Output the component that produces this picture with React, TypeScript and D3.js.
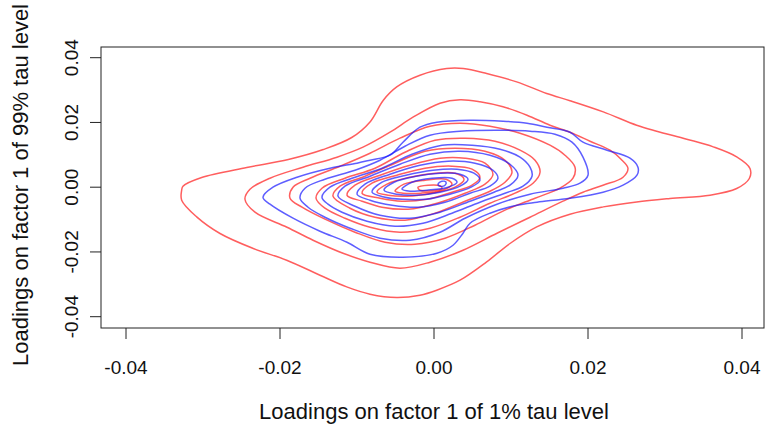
import React from 'react';
import * as d3 from 'd3';

type P = [number, number];

const xTicks = [-0.04, -0.02, 0, 0.02, 0.04];
const yTicks = [-0.04, -0.02, 0, 0.02, 0.04];
const xTickLabels = ['-0.04', '-0.02', '0.00', '0.02', '0.04'];
const yTickLabels = ['-0.04', '-0.02', '0.00', '0.02', '0.04'];
const xTitle = 'Loadings on factor 1 of 1% tau level';
const yTitle = 'Loadings on factor 1 of 99% tau level';

// Red contour levels (outer -> inner)
const red1: P[] = [[-0.03277,-0.00093],[-0.0326,0.00031],[-0.03017,0.003],[-0.02432,0.00608],[-0.01892,0.00856],[-0.01438,0.01164],[-0.01069,0.01535],[-0.00831,0.02017],[-0.00658,0.02687],[-0.00484,0.03098],[-0.00182,0.03459],[0.00165,0.03666],[0.00381,0.03666],[0.00684,0.03512],[0.01074,0.03253],[0.01464,0.02894],[0.01766,0.02672],[0.02199,0.02326],[0.02632,0.01915],[0.02892,0.0173],[0.03282,0.01483],[0.03627,0.01245],[0.03931,0.00936],[0.04104,0.00578],[0.04095,0.00269],[0.03931,-0.0004],[0.03584,-0.00247],[0.03065,-0.00349],[0.02632,-0.00454],[0.02199,-0.00608],[0.01766,-0.00834],[0.01334,-0.01226],[0.00987,-0.01739],[0.00684,-0.02307],[0.00338,-0.02873],[0.00035,-0.03181],[-0.00182,-0.03336],[-0.00484,-0.03407],[-0.00831,-0.03305],[-0.01134,-0.0308],[-0.01481,-0.02718],[-0.01913,-0.02255],[-0.02347,-0.01893],[-0.02779,-0.0143],[-0.03082,-0.00917],[-0.03277,-0.00402]];
const red2: P[] = [[-0.02455,-0.00371],[-0.0239,-0.00062],[-0.0213,0.00278],[-0.01701,0.00618],[-0.0126,0.00927],[-0.00922,0.01236],[-0.00571,0.01699],[-0.00273,0.02162],[0.00078,0.02595],[0.00338,0.02703],[0.00597,0.02641],[0.00896,0.02486],[0.01208,0.02224],[0.01506,0.01915],[0.01766,0.01699],[0.02026,0.01421],[0.02286,0.01143],[0.02429,0.00865],[0.02519,0.00587],[0.02455,0.00309],[0.02195,0.00062],[0.01935,-0.00154],[0.01675,-0.00432],[0.01247,-0.00927],[0.00818,-0.01421],[0.00377,-0.01946],[-0.00052,-0.02317],[-0.00442,-0.02502],[-0.00831,-0.02317],[-0.01182,-0.02039],[-0.01571,-0.01637],[-0.01909,-0.01236],[-0.02325,-0.00772]];
const red3: P[] = [[-0.0187,-0.0034],[-0.01831,0],[-0.0161,0.00278],[-0.01221,0.00649],[-0.00831,0.0105],[-0.00442,0.01514],[-0.00052,0.01884],[0.00338,0.01977],[0.00727,0.01884],[0.01117,0.01668],[0.01506,0.01297],[0.01701,0.00988],[0.01831,0.00618],[0.01805,0.00278],[0.01636,-0.00031],[0.01312,-0.0034],[0.00922,-0.0071],[0.00532,-0.01174],[0.00143,-0.01575],[-0.00247,-0.01761],[-0.00636,-0.01699],[-0.01026,-0.0139],[-0.01416,-0.00988],[-0.01714,-0.00618]];
const red4: P[] = [[-0.01532,-0.0034],[-0.01455,-0.00031],[-0.01156,0.00278],[-0.00766,0.00587],[-0.00377,0.01081],[0.00013,0.01452],[0.00403,0.01514],[0.00792,0.01421],[0.01117,0.01143],[0.01312,0.00834],[0.01377,0.00463],[0.01286,0.00124],[0.01052,-0.00185],[0.00727,-0.00494],[0.00338,-0.00927],[-0.00052,-0.01266],[-0.00442,-0.0139],[-0.00831,-0.01236],[-0.01156,-0.00958],[-0.01416,-0.00649]];
const red5: P[] = [[-0.01312,-0.00278],[-0.01221,0.00031],[-0.00896,0.0034],[-0.00506,0.00741],[-0.00117,0.01112],[0.00273,0.01205],[0.00662,0.01112],[0.00922,0.00834],[0.01013,0.00463],[0.00922,0.00154],[0.00727,-0.00124],[0.00403,-0.00432],[0.00013,-0.00803],[-0.00377,-0.01019],[-0.00766,-0.00927],[-0.01091,-0.00649]];
const red6: P[] = [[-0.0113,-0.00247],[-0.01026,0.00062],[-0.00701,0.00371],[-0.00312,0.0068],[0.00078,0.00896],[0.00403,0.00896],[0.00662,0.00741],[0.00766,0.00402],[0.00662,0.00093],[0.00403,-0.00185],[0.00039,-0.00494],[-0.00338,-0.0068],[-0.00675,-0.00618],[-0.00935,-0.00432]];
const red7: P[] = [[-0.00935,-0.00185],[-0.00805,0.00124],[-0.00481,0.00371],[-0.00117,0.00587],[0.00234,0.00649],[0.00494,0.00556],[0.00597,0.00309],[0.00494,0.00062],[0.00234,-0.00154],[-0.00091,-0.00371],[-0.00416,-0.00432],[-0.00701,-0.0034]];
const red8: P[] = [[-0.0074,-0.00154],[-0.0061,0.00093],[-0.00312,0.00309],[0.00013,0.00432],[0.00273,0.00432],[0.0039,0.00247],[0.00273,0],[-0.00026,-0.00185],[-0.00351,-0.00278],[-0.00597,-0.00247]];
const red9: P[] = [[-0.00506,-0.00124],[-0.0039,0.00093],[-0.00117,0.00216],[0.00156,0.00247],[0.00234,0.00093],[0.00104,-0.00093],[-0.00169,-0.00185],[-0.00403,-0.00185]];
const red10: P[] = [[-0.00208,0],[0.00078,0.00046],[0.00104,-0.00046],[-0.00182,-0.00093]];

// Blue contour levels (outer -> inner)
const blue1: P[] = [[-0.02221,-0.00309],[-0.02091,0],[-0.01779,0.00309],[-0.01351,0.00587],[-0.01,0.00741],[-0.00831,0.00834],[-0.00571,0.00988],[-0.00403,0.0139],[-0.00182,0.01853],[0.00039,0.02008],[0.00468,0.0207],[0.00896,0.02039],[0.01208,0.01977],[0.01468,0.01853],[0.01766,0.01699],[0.01935,0.0139],[0.02247,0.01143],[0.02545,0.00896],[0.02649,0.00618],[0.02636,0.00371],[0.02455,0.00062],[0.02195,-0.00154],[0.01766,-0.0034],[0.01338,-0.00463],[0.01078,-0.00556],[0.00727,-0.00803],[0.00468,-0.01112],[0.00377,-0.01421],[0.00247,-0.01792],[0.00039,-0.02039],[-0.00403,-0.02162],[-0.00831,-0.0207],[-0.0113,-0.01699],[-0.01481,-0.01359],[-0.01831,-0.00958],[-0.0213,-0.00525]];
const blue2: P[] = [[-0.0174,-0.0034],[-0.01675,-0.00031],[-0.01416,0.00247],[-0.01026,0.00525],[-0.00701,0.00834],[-0.00377,0.01266],[-0.00052,0.01606],[0.00338,0.0173],[0.00818,0.01761],[0.01247,0.0173],[0.01571,0.01637],[0.01792,0.0139],[0.01935,0.00927],[0.02,0.00371],[0.01896,0.00124],[0.01675,-0.00031],[0.01247,-0.00216],[0.00818,-0.00525],[0.00403,-0.00958],[0.00078,-0.0139],[-0.00312,-0.01637],[-0.00701,-0.01575],[-0.01091,-0.01266],[-0.01416,-0.00927],[-0.01636,-0.00618]];
const blue3: P[] = [[-0.01455,-0.00309],[-0.01351,0],[-0.01065,0.00278],[-0.00675,0.00587],[-0.00286,0.01019],[0.00104,0.01297],[0.00494,0.01297],[0.00857,0.01174],[0.01117,0.00927],[0.01247,0.00618],[0.01273,0.0034],[0.01156,0.00031],[0.00922,-0.00185],[0.00597,-0.00463],[0.00234,-0.00803],[-0.00143,-0.01112],[-0.00506,-0.01205],[-0.0087,-0.0105],[-0.01195,-0.00772],[-0.01377,-0.00525]];
const blue4: P[] = [[-0.01247,-0.00278],[-0.01156,0.00031],[-0.00831,0.0034],[-0.00442,0.0071],[-0.00052,0.01019],[0.00338,0.01112],[0.00727,0.00988],[0.00987,0.0071],[0.01091,0.00371],[0.00987,0.00062],[0.00779,-0.00154],[0.00468,-0.00432],[0.00078,-0.00772],[-0.00312,-0.00958],[-0.00701,-0.00865],[-0.01026,-0.00587]];
const blue5: P[] = [[-0.01,-0.00216],[-0.00896,0.00093],[-0.00571,0.00402],[-0.00182,0.0068],[0.00182,0.00803],[0.00532,0.00741],[0.00766,0.00525],[0.00831,0.00278],[0.00727,0.00031],[0.00468,-0.00185],[0.00143,-0.00463],[-0.00208,-0.00618],[-0.00545,-0.00556],[-0.00831,-0.00402]];
const blue6: P[] = [[-0.00805,-0.00154],[-0.00675,0.00154],[-0.00364,0.00371],[-0.00013,0.00525],[0.00299,0.00556],[0.00519,0.00432],[0.00597,0.00216],[0.00481,0],[0.00208,-0.00216],[-0.00104,-0.00371],[-0.00416,-0.00371],[-0.00636,-0.00309]];
const blue7: P[] = [[-0.00649,-0.00093],[-0.00519,0.00154],[-0.00234,0.0034],[0.00078,0.00432],[0.00338,0.00402],[0.00442,0.00247],[0.00338,0.00031],[0.00078,-0.00154],[-0.00234,-0.00247],[-0.00481,-0.00216]];
const blue8: P[] = [[-0.00416,-0.00062],[-0.00286,0.00154],[-0.00026,0.00278],[0.00234,0.00278],[0.00299,0.00154],[0.00182,0],[-0.00091,-0.00093],[-0.00312,-0.00124]];
const blue9: P[] = [[0.00052,0.00093],[0.00104,0.00185],[0.00156,0.00154],[0.00143,0.00062],[0.00078,0.00031]];

const redContours = [red1, red2, red3, red4, red5, red6, red7, red8, red9, red10];
const blueContours = [blue1, blue2, blue3, blue4, blue5, blue6, blue7, blue8, blue9];

const FONT = '"Liberation Sans", Arial, Helvetica, sans-serif';

export default function App() {
  const W = 765, H = 425;
  const box = { left: 101, right: 764, top: 47, bottom: 328 };
  const x = d3.scaleLinear().domain([-0.04, 0.04]).range([126, 742]);
  const y = d3.scaleLinear().domain([-0.04, 0.04]).range([316.7, 57.7]);
  const line = d3.line<P>().x(d => x(d[0])).y(d => y(d[1])).curve(d3.curveCatmullRomClosed.alpha(0.5));
  const tickLen = 11;

  return (
    <svg width={W} height={H} style={{ position: 'absolute', left: 0, top: 0, background: '#fff' }} fontFamily={FONT}>
      <rect x={0} y={0} width={W} height={H} fill="#fff" />
      <g fill="none" strokeWidth={1.5} strokeLinejoin="round">
        {redContours.map((c, i) => (
          <path key={'r' + i} d={line(c) || ''} stroke="#ff1a1a" strokeOpacity={0.7} />
        ))}
        {blueContours.map((c, i) => (
          <path key={'b' + i} d={line(c) || ''} stroke="#1a1aff" strokeOpacity={0.7} />
        ))}
      </g>
      <rect x={box.left} y={box.top} width={box.right - box.left} height={box.bottom - box.top} fill="none" stroke="#222" strokeWidth={1} />
      {xTicks.map((t, i) => (
        <g key={'xt' + i}>
          <line x1={x(t)} x2={x(t)} y1={box.bottom} y2={box.bottom + tickLen} stroke="#222" />
          <text x={x(t)} y={374} textAnchor="middle" fontSize={19} fill="#111">{xTickLabels[i]}</text>
        </g>
      ))}
      {yTicks.map((t, i) => (
        <g key={'yt' + i}>
          <line x1={box.left - tickLen} x2={box.left} y1={y(t)} y2={y(t)} stroke="#222" />
          <text transform={`translate(78,${y(t)}) rotate(-90)`} textAnchor="middle" fontSize={19} fill="#111">{yTickLabels[i]}</text>
        </g>
      ))}
      <text x={434} y={419} textAnchor="middle" fontSize={22} fill="#111">{xTitle}</text>
      <text transform={`translate(28,185) rotate(-90)`} textAnchor="middle" fontSize={22} fill="#111">{yTitle}</text>
    </svg>
  );
}
